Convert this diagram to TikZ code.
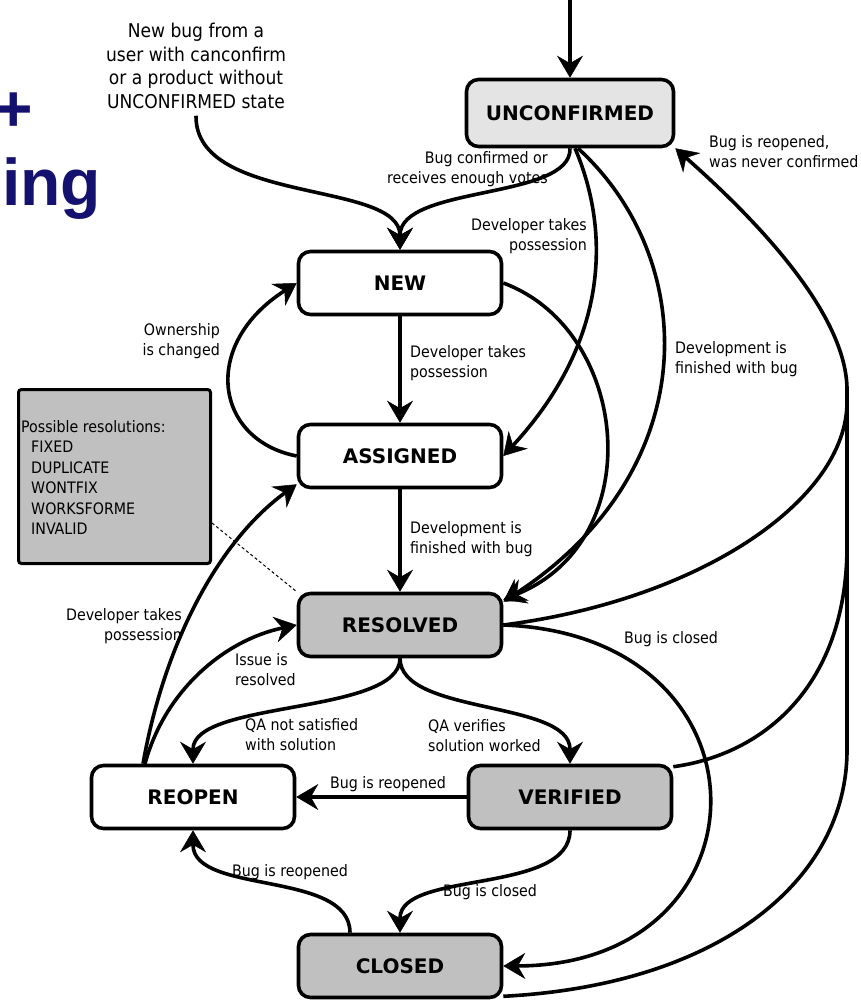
\documentclass[tikz,border=0pt]{standalone}
\usepackage{fontspec}
\usetikzlibrary{arrows.meta}
\newfontfamily\lblfam{DejaVu Sans Condensed}
\newfontfamily\statefam{DejaVu Sans}
\newfontfamily\headfam{Liberation Sans}
\definecolor{navy}{RGB}{20,18,110}
\definecolor{stategray}{RGB}{192,192,192}
\definecolor{palegray}{RGB}{228,228,228}
% stacked lines whose base anchor is the first line's baseline
\newcommand{\tlines}[2]{\begin{tabular}[t]{@{}#1@{}}#2\end{tabular}}

\begin{document}
\begin{tikzpicture}[x=1pt,y=-1pt,
  state/.style={draw, line width=3.6pt, rounded corners=12pt,
    minimum width=203pt, minimum height=63pt, inner sep=0pt,
    font=\statefam\bfseries\fontsize{20}{24}\selectfont},
  lbl/.style={inner sep=0pt, font=\lblfam\fontsize{15.8}{20}\selectfont},
  headtxt/.style={inner sep=0pt, text=navy,
    font=\headfam\bfseries\fontsize{66}{66}\selectfont},
  notebox/.style={draw, fill=stategray, line width=3pt, rounded corners=3pt,
    minimum width=192pt, minimum height=174pt, inner sep=0pt},
  trans/.style={line width=3.6pt,
    -{Stealth[length=22pt,width=26pt,inset=7.5pt,line width=0.5pt]}},
  mergeline/.style={line width=3.6pt},
  noteline/.style={line width=1pt, dash pattern=on 3pt off 2.5pt},
]
\useasboundingbox (0,0) rectangle (860,1000);

% heading fragments at the left border
\node[headtxt, anchor=base west] (plus) at (-5.5,132) {+};
\node[headtxt, anchor=base west] (ing) at (2,206) {ing};

% states
\node[state, fill=palegray, minimum width=207pt, minimum height=67pt] (unc) at (570,113) {UNCONFIRMED};
\node[state, fill=white] (new) at (400,283) {NEW};
\node[state, fill=white] (assigned) at (400,456) {ASSIGNED};
\node[state, fill=stategray] (resolved) at (400,625) {RESOLVED};
\node[state, fill=white] (reopen) at (193,797) {REOPEN};
\node[state, fill=stategray] (verified) at (570,797) {VERIFIED};
\node[state, fill=stategray] (closed) at (400,966) {CLOSED};

% resolutions note
\node[notebox] (resbox) at (114.5,476.5) {};
\node[lbl, anchor=base west, font=\lblfam\fontsize{15.8}{20.5}\selectfont] (restxt) at (21,432)
  {\tlines{l}{Possible resolutions:\\\hspace{10pt}FIXED\\\hspace{10pt}DUPLICATE\\\hspace{10pt}WONTFIX\\\hspace{10pt}WORKSFORME\\\hspace{10pt}INVALID}};
\draw[noteline] ([yshift=-46.5pt]resbox.east) -- (resolved.north west);

% transition labels
\node[lbl, anchor=base, font=\lblfam\fontsize{19}{23.5}\selectfont] (newbug) at (196,38)
  {\tlines{c}{New bug from a\\user with canconfirm\\or a product without\\UNCONFIRMED state}};
\node[lbl, anchor=base east] (lconf) at (548,164) {\tlines{r}{Bug confirmed or\\receives enough votes}};
\node[lbl, anchor=base east] (ldev1) at (587,231) {\tlines{r}{Developer takes\\possession}};
\node[lbl, anchor=base west] (lreop1) at (709,148) {\tlines{l}{Bug is reopened,\\was never confirmed}};
\node[lbl, anchor=base east] (lown) at (220,335) {\tlines{r}{Ownership\\is changed}};
\node[lbl, anchor=base west] (ldev2) at (410,357) {\tlines{l}{Developer takes\\possession}};
\node[lbl, anchor=base west] (lfin1) at (675,353) {\tlines{l}{Development is\\finished with bug}};
\node[lbl, anchor=base west] (lfin2) at (410,533) {\tlines{l}{Development is\\finished with bug}};
\node[lbl, anchor=base east] (ldev3) at (182,620) {\tlines{r}{Developer takes\\possession}};
\node[lbl, anchor=base west] (liss) at (235,665) {\tlines{l}{Issue is\\resolved}};
\node[lbl, anchor=base west] (lcl1) at (624,643) {Bug is closed};
\node[lbl, anchor=base west] (lqa1) at (245,730) {\tlines{l}{QA not satisfied\\with solution}};
\node[lbl, anchor=base west] (lqa2) at (428,731) {\tlines{l}{QA verifies\\solution worked}};
\node[lbl, anchor=base west] (lreop2) at (330,788) {Bug is reopened};
\node[lbl, anchor=base west] (lreop3) at (232,876) {Bug is reopened};
\node[lbl, anchor=base west] (lcl2) at (443,896) {Bug is closed};

% free ends and merge points
\coordinate (entry) at (570,0);
\coordinate (bend) at (847,750);
\coordinate (rise) at (847,390);
\coordinate (mres) at (847,402);
\coordinate (mver) at (847,550);

% transitions
\draw[trans] (entry) -- (unc.north);
\draw[trans] (newbug.south) .. controls (195,205) and (400,180) .. (new.north);
\draw[trans] (unc.south) .. controls (572,200) and (400,185) .. (new.north);
\draw[trans] ([xshift=5pt]unc.south) .. controls (610,230) and (610,340) .. (assigned.east);
\draw[trans] ([xshift=8pt]unc.south) .. controls (700,260) and (705,470) .. ([yshift=-10pt]resolved.north east);
\draw[trans] (new.east) .. controls (630,330) and (650,540) .. ([yshift=-8pt]resolved.north east);
\draw[trans] (new.south) -- (assigned.north);
\draw[trans] (assigned.west) .. controls (215,440) and (200,345) .. (new.west);
\draw[trans] (assigned.south) -- (resolved.north);
\draw[trans] (resolved.south) .. controls (400,715) and (193,700) .. (reopen.north);
\draw[trans] (resolved.south) .. controls (400,715) and (570,700) .. (verified.north);
\draw[trans] (verified.west) -- (reopen.east);
\draw[trans] ([xshift=-50pt]reopen.north) .. controls (165,640) and (220,540) .. ([yshift=5pt]assigned.south west);
\draw[trans] ([xshift=-48pt]reopen.north) .. controls (165,690) and (225,640) .. (resolved.west);
\draw[trans] ([xshift=-50pt]closed.north) .. controls (350,870) and (193,895) .. (reopen.south);
\draw[trans] (verified.south) .. controls (570,895) and (400,870) .. (closed.north);
\draw[trans] (resolved.east) .. controls (780,635) and (775,965) .. (closed.east);
% reopening of never confirmed bugs, three sources joined into one line
\draw[trans] ([yshift=3pt]closed.south east) .. controls (720,985) and (847,880) .. (bend)
  -- (rise) .. controls (847,320) and (770,232) .. (unc.south east);
\draw[mergeline] (resolved.east) .. controls (700,600) and (847,500) .. (mres);
\draw[mergeline] ([yshift=-3pt]verified.north east) .. controls (760,755) and (845,690) .. (mver);
\end{tikzpicture}
\end{document}
